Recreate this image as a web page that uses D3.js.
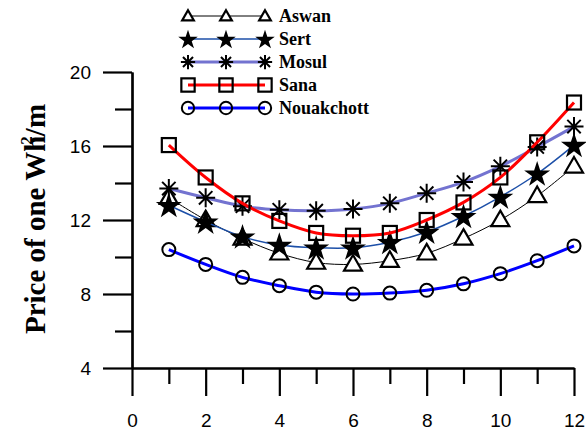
<!DOCTYPE html>
<html>
<head>
<meta charset="utf-8">
<script src="https://cdn.jsdelivr.net/npm/d3@7"></script>
<style>
  body { margin: 0; background: #fff; }
  svg { display: block; }
  .axis path, .axis line { stroke: #000; stroke-width: 2.2; }
  .axis text { font-family: "Liberation Sans", Arial, sans-serif; font-size: 19px; fill: #000; }
  .title { font-family: "Liberation Serif", "Times New Roman", serif; font-weight: bold; }
</style>
</head>
<body>
<svg id="chart" width="586" height="433"></svg>
<script>
// months 1..12
const months = [1, 2, 3, 4, 5, 6, 7, 8, 9, 10, 11, 12]

const aswan = [13.2, 12.0, 11.0, 10.2, 9.7, 9.6, 9.8, 10.2, 11.0, 12.0, 13.3, 14.9]
const sert = [12.8, 11.9, 11.1, 10.65, 10.5, 10.5, 10.8, 11.35, 12.2, 13.25, 14.5, 16.05]
const mosul = [13.7, 13.2, 12.75, 12.55, 12.5, 12.6, 12.9, 13.45, 14.05, 14.9, 15.95, 17.05]
const sana = [16.05, 14.3, 12.9, 11.95, 11.3, 11.15, 11.3, 12.0, 12.95, 14.3, 16.2, 18.35]
const nouakchott = [10.4, 9.6, 8.9, 8.45, 8.1, 8.0, 8.05, 8.2, 8.55, 9.1, 9.8, 10.6]

const xMajor = [0, 2, 4, 6, 8, 10, 12]
const xMinor = [1, 3, 5, 7, 9, 11]
const yMajor = [4, 8, 12, 16, 20]
const yMinor = [6, 10, 14, 18]

const series = [
  {name: 'Aswan', values: aswan, color: '#000', width: 1, marker: 'triangle', legendK: 0.65},
  {name: 'Sert', values: sert, color: '#1c4fa8', width: 1.5, marker: 'star', legendK: 0.75},
  {name: 'Mosul', values: mosul, color: '#7373d0', width: 3, marker: 'asterisk', legendK: 0.75},
  {name: 'Sana', values: sana, color: '#ff0000', width: 3, marker: 'square', legendK: 0.95},
  {name: 'Nouakchott', values: nouakchott, color: '#0000ff', width: 3, marker: 'circle', legendK: 0.95},
]

const svg = d3.select('#chart')

const x = d3.scaleLinear().domain([0, 12]).range([132, 574])
const y = d3.scaleLinear().domain([4, 20]).range([368, 72])

// axes - minor ticks first, then major with labels
svg.append('g').attr('class', 'axis')
  .attr('transform', `translate(0, ${y(4)})`)
  .call(d3.axisBottom(x).tickValues(xMinor).tickSize(16).tickSizeOuter(0).tickFormat(''))
svg.append('g').attr('class', 'axis')
  .attr('transform', `translate(0, ${y(4)})`)
  .call(d3.axisBottom(x).tickValues(xMajor).tickSize(28).tickSizeOuter(0))
  .call(g => g.selectAll('text').attr('y', 46).attr('dy', '0.71em'))

svg.append('g').attr('class', 'axis')
  .attr('transform', `translate(${x(0)}, 0)`)
  .call(d3.axisLeft(y).tickValues(yMinor).tickSize(17).tickSizeOuter(0).tickFormat(''))
svg.append('g').attr('class', 'axis')
  .attr('transform', `translate(${x(0)}, 0)`)
  .call(d3.axisLeft(y).tickValues(yMajor).tickSize(29).tickSizeOuter(0))
  .call(g => g.selectAll('text').attr('x', -41))

// y title
const yt = svg.append('text')
  .attr('class', 'title')
  .attr('transform', 'translate(45, 219) rotate(-90)')
  .attr('text-anchor', 'middle')
  .attr('font-size', 29)
yt.append('tspan').text('Price of one Wh')
yt.append('tspan').attr('font-size', 17).attr('dy', -13).attr('dx', -9).text('2')
yt.append('tspan').attr('dy', 13).text('/m')

// k scales the marker (legend markers are smaller than the plot ones)
function drawMarker(g, type, cx, cy, k) {
  if (type === 'triangle') {
    g.append('path')
      .attr('d', d3.symbol(d3.symbolTriangle, 140 * k * k)())
      .attr('transform', `translate(${cx}, ${cy + 1})`)
      .attr('fill', '#fff').attr('stroke', '#000').attr('stroke-width', 2.2)
  } else if (type === 'star') {
    g.append('path')
      .attr('d', d3.symbol(d3.symbolStar, 210 * k * k)())
      .attr('transform', `translate(${cx}, ${cy + 1})`)
      .attr('fill', '#000')
  } else if (type === 'asterisk') {
    const r = 9.5 * k
    const d = r * Math.SQRT1_2
    g.append('path')
      .attr('d', `M${cx - r},${cy}H${cx + r}M${cx},${cy - r}V${cy + r}` +
        `M${cx - d},${cy - d}L${cx + d},${cy + d}M${cx - d},${cy + d}L${cx + d},${cy - d}`)
      .attr('stroke', '#000').attr('stroke-width', 2).attr('fill', 'none')
  } else if (type === 'square') {
    const h = 7 * k
    g.append('rect')
      .attr('x', cx - h).attr('y', cy - h).attr('width', 2 * h).attr('height', 2 * h)
      .attr('fill', 'none').attr('stroke', '#000').attr('stroke-width', 2.2)
  } else {
    g.append('circle')
      .attr('cx', cx).attr('cy', cy).attr('r', 6.5 * k)
      .attr('fill', 'none').attr('stroke', '#000').attr('stroke-width', 2)
  }
}

const line = d3.line()
  .x((d, i) => x(months[i]))
  .y(d => y(d))
  .curve(d3.curveCatmullRom.alpha(0.5))

const plot = svg.append('g')
series.forEach(s => {
  plot.append('path')
    .attr('d', line(s.values))
    .attr('fill', 'none')
    .attr('stroke', s.color)
    .attr('stroke-width', s.width)
  s.values.forEach((v, i) => drawMarker(plot, s.marker, x(months[i]), y(v), 1))
})

// legend
const legend = svg.append('g')
const legendX = [188, 226, 265]
series.forEach((s, i) => {
  const ly = 16 + i * 23
  legend.append('line')
    .attr('x1', legendX[0]).attr('x2', legendX[2])
    .attr('y1', ly).attr('y2', ly)
    .attr('stroke', s.color).attr('stroke-width', s.width)
  legendX.forEach(lx => drawMarker(legend, s.marker, lx, ly, s.legendK))
  legend.append('text')
    .attr('class', 'title')
    .attr('x', 279).attr('y', ly + 6)
    .attr('font-size', 18)
    .text(s.name)
})
</script>
</body>
</html>
